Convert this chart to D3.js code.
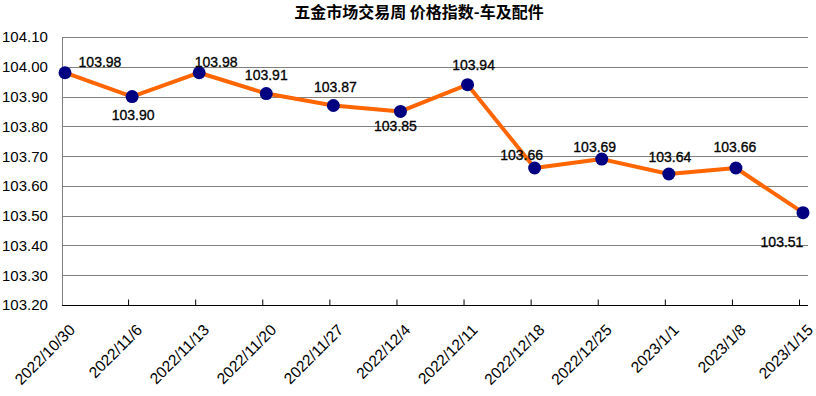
<!DOCTYPE html>
<html><head><meta charset="utf-8">
<script src="https://cdn.jsdelivr.net/npm/d3@7"></script>
<style>body{margin:0;background:#fff}svg{display:block}</style>
</head><body>
<svg id="c" width="816" height="396"></svg>
<script>
const title = "五金市场交易周 价格指数-车及配件";
const categories = ["2022/10/30","2022/11/6","2022/11/13","2022/11/20","2022/11/27","2022/12/4","2022/12/11","2022/12/18","2022/12/25","2023/1/1","2023/1/8","2023/1/15"];
const values = [103.98,103.90,103.98,103.91,103.87,103.85,103.94,103.66,103.69,103.64,103.66,103.51];
const yTicks = [103.20,103.30,103.40,103.50,103.60,103.70,103.80,103.90,104.00,104.10];
// label placement offsets (layout only)
const labelOffsets = [[35,-6],[1,23],[17,-6],[0,-14],[2,-13],[-5,20],[6,-15],[-13,-8],[-7,-7],[1,-12],[-1,-16],[-21,34]];

const svg = d3.select("#c");
const pL = 62, pR = 808, pT = 37, pB = 305;
const x = d3.scalePoint().domain(categories).range([65, 803]);
const y = d3.scaleLinear().domain([103.2, 104.1]).range([pB, pT]);

svg.append("text").attr("x", 419).attr("y", 18).attr("text-anchor", "middle")
  .attr("font-family", "'Noto Sans CJK SC', sans-serif").attr("font-weight", "bold")
  .attr("font-size", 16).attr("fill", "#000").text(title);

// gridlines
svg.append("g").selectAll("line").data(yTicks.filter(d => d > 103.2)).join("line")
  .attr("x1", pL).attr("x2", pR)
  .attr("y1", d => Math.round(y(d)) + 0.5).attr("y2", d => Math.round(y(d)) + 0.5)
  .attr("stroke", "#808080").attr("stroke-width", 1);

// left axis line
svg.append("line").attr("x1", pL + 0.5).attr("x2", pL + 0.5).attr("y1", pT).attr("y2", pB)
  .attr("stroke", "#808080");

// y labels
svg.append("g").selectAll("text").data(yTicks).join("text")
  .attr("x", 2).attr("y", d => y(d)).attr("dy", "0.36em")
  .attr("font-family", "'Liberation Sans', Arial, sans-serif").attr("font-size", 15)
  .attr("fill", "#000").text(d => d.toFixed(2));

// bottom axis
const xAxis = d3.axisBottom(x).tickSize(-6).tickFormat("");
const gx = svg.append("g").attr("transform", `translate(-4,${pB + 0.5})`).call(xAxis);
gx.select(".domain").remove();
gx.selectAll(".tick line").attr("stroke", "#000");
gx.selectAll(".tick").filter((d, i) => i === 0).remove();
svg.append("line").attr("x1", pL).attr("x2", pR).attr("y1", pB + 0.5).attr("y2", pB + 0.5)
  .attr("stroke", "#000");

// x labels
svg.append("g").selectAll("text").data(categories).join("text")
  .attr("transform", d => `translate(${x(d) + 11},331) rotate(-45)`)
  .attr("text-anchor", "end")
  .attr("font-family", "'Liberation Sans', Arial, sans-serif").attr("font-size", 15.5)
  .attr("fill", "#000").text(d => d);

// line
const line = d3.line().x((d, i) => x(categories[i])).y(d => y(d));
svg.append("path").datum(values).attr("d", line).attr("fill", "none")
  .attr("stroke", "#FF6600").attr("stroke-width", 4).attr("stroke-linejoin", "round");

// markers
svg.append("g").selectAll("circle").data(values).join("circle")
  .attr("cx", (d, i) => x(categories[i])).attr("cy", d => y(d)).attr("r", 6.5)
  .attr("fill", "#000080");

// data labels
svg.append("g").selectAll("text").data(values).join("text")
  .attr("x", (d, i) => x(categories[i]) + labelOffsets[i][0])
  .attr("y", (d, i) => y(d) + labelOffsets[i][1])
  .attr("text-anchor", "middle")
  .attr("font-family", "'Liberation Sans', Arial, sans-serif").attr("font-size", 14)
  .attr("fill", "#000").attr("stroke", "#000").attr("stroke-width", 0.3)
  .text(d => d.toFixed(2));
</script>
</body></html>
